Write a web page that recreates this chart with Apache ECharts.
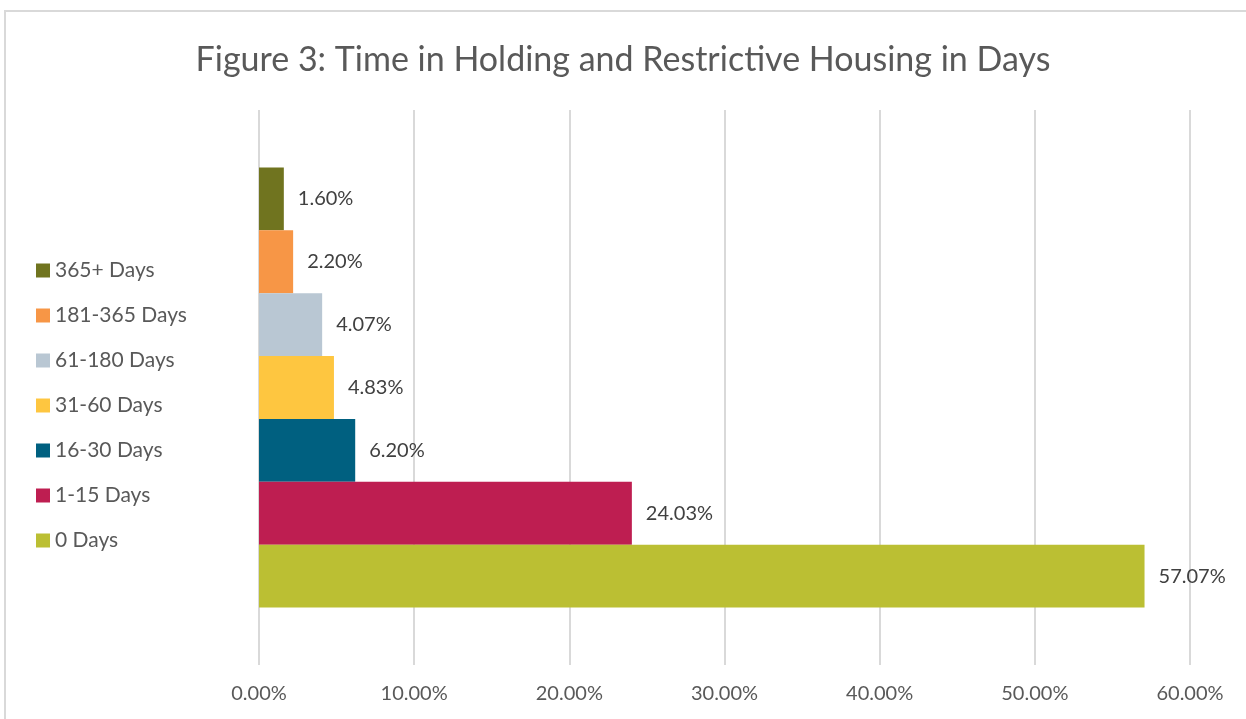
<!DOCTYPE html>
<html>
<head>
<meta charset="utf-8">
<script src="https://cdn.jsdelivr.net/npm/echarts@6/dist/echarts.min.js"></script>
<style>
  html, body { margin: 0; padding: 0; background: #fff; }
  #frame { position: absolute; left: 4px; top: 10px; width: 1300px; height: 800px; border: 2px solid #d9d9d9; box-sizing: border-box; }
  #chart { position: absolute; left: 0; top: 0; width: 1246px; height: 719px; }
</style>
</head>
<body>
<div id="frame"></div>
<div id="chart"></div>
<script>
// top to bottom, as drawn
const seriesNames = ['365+ Days', '181-365 Days', '61-180 Days', '31-60 Days', '16-30 Days', '1-15 Days', '0 Days'];
const seriesValues = [1.60, 2.20, 4.07, 4.83, 6.20, 24.03, 57.07];
const seriesColors = ['#70741f', '#f79646', '#b9c7d3', '#fec640', '#006080', '#be1e51', '#bbbf33'];
const xTicks = [0, 10, 20, 30, 40, 50, 60];

const FONT = 'Lato, "Open Sans", sans-serif';

const chart = echarts.init(document.getElementById('chart'));

const series = seriesNames.map((name, i) => ({
  name: name,
  type: 'bar',
  data: [seriesValues[i]],
  barGap: '0%',
  barCategoryGap: '20.7%',
  itemStyle: { color: seriesColors[i] },
  label: {
    show: true,
    position: 'right',
    distance: 14,
    color: '#404040',
    fontFamily: FONT,
    fontSize: 20,
    formatter: (p) => p.value.toFixed(2) + '%'
  }
}));

const option = {
  animation: false,
  title: {
    text: 'Figure 3: Time in Holding and Restrictive Housing in Days',
    left: 'center',
    top: 38,
    textStyle: { color: '#595959', fontFamily: FONT, fontSize: 34, fontWeight: 'normal' }
  },
  legend: {
    orient: 'vertical',
    left: 31,
    top: 255,
    itemWidth: 14,
    itemHeight: 14,
    itemGap: 24,
    icon: 'rect',
    data: seriesNames,
    textStyle: { color: '#595959', fontFamily: FONT, fontSize: 21 }
  },
  grid: { left: 259, right: 56, top: 110, bottom: 54, containLabel: false },
  xAxis: {
    type: 'value',
    min: xTicks[0],
    max: xTicks[xTicks.length - 1],
    interval: 10,
    axisLine: { show: false },
    axisTick: { show: false },
    splitLine: { lineStyle: { color: '#d9d9d9', width: 2 } },
    axisLabel: {
      color: '#595959',
      fontFamily: FONT,
      fontSize: 20,
      margin: 19,
      formatter: (v) => v.toFixed(2) + '%'
    }
  },
  yAxis: {
    type: 'category',
    data: [''],
    inverse: true,
    axisLine: { show: false },
    axisTick: { show: false },
    axisLabel: { show: false }
  },
  series: series
};

chart.setOption(option);
</script>
</body>
</html>
